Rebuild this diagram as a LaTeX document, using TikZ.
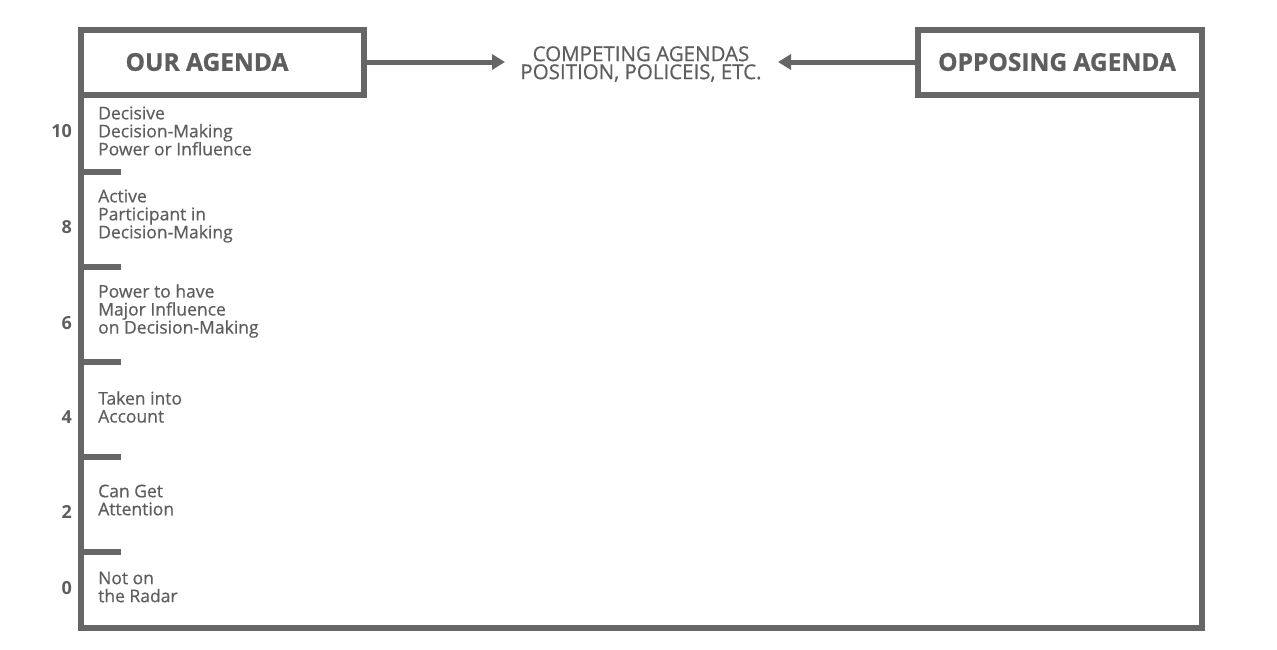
\documentclass[tikz,border=0pt]{standalone}
\usepackage{fontspec}
\setmainfont{Open Sans}
\newfontfamily\lblfont[FakeBold=0.6]{Open Sans}
\newfontfamily\ttlfont[BoldFeatures={FakeBold=1}]{Open Sans}
\usetikzlibrary{arrows.meta}
\definecolor{fr}{HTML}{666666}
\definecolor{tx}{HTML}{5E5E5E}
\tikzset{
  agbox/.style={draw=fr, line width=6pt, minimum height=64.5pt, inner sep=0pt},
  title/.style={text=tx, font=\ttlfont\fontsize{24.5}{26}\selectfont\bfseries, inner sep=0pt},
  lvl/.style={text=tx, font=\lblfont\fontsize{17.5}{18}\selectfont, align=left, anchor=west, inner sep=0pt},
  num/.style={text=tx, font=\fontsize{18}{18}\selectfont\bfseries, anchor=east, inner sep=0pt},
  tick/.style={draw=fr, line width=6pt},
  arr/.style={draw=fr, line width=5pt, -{Triangle[length=13pt,width=15pt]}}
}
\begin{document}
\begin{tikzpicture}[x=1pt,y=-1pt]
\useasboundingbox (0,0) rectangle (1277,649);
% boxes
\node[agbox, minimum width=282.5pt] (our) at (222.25,62.25) {};
\node[agbox, minimum width=284pt] (opp) at (1060,62.25) {};
\node[title] (ourt) at (207,62) {OUR AGENDA};
\node[title] (oppt) at (1057,62) {OPPOSING AGENDA};
% middle text
\node[text=tx, font=\lblfont\fontsize{20.5}{18}\selectfont, align=center, inner sep=0pt] (mid) at (641,64) {COMPETING AGENDAS\\POSITION, POLICEIS, ETC.};
\coordinate (ltip) at (505,62);
\coordinate (rtip) at (778,62);
\draw[arr] (our.east |- ltip) -- (ltip);
\draw[arr] (opp.west |- rtip) -- (rtip);
% frame
\coordinate (bl) at (81,628);
\coordinate (br) at (1202,628);
\draw[draw=fr, line width=6pt, line join=miter] (81,94.5) -- (bl) -- (br) -- (1202,94.5);
% ticks
\foreach \y/\n in {171.5/t1, 267/t2, 362/t3, 457/t4, 552/t5}{
  \coordinate (\n a) at (81,\y);
  \coordinate (\n b) at (121,\y);
  \draw[tick] (\n a) -- (\n b);
}
% level labels
\node[lvl] (l10) at (98,131) {Decisive\\Decision-Making\\Power or Influence};
\node[lvl] (l8) at (98,216) {Active\\Participant in\\Decision-Making};
\node[lvl] (l6) at (98,311) {Power to have\\Major Influence\\on Decision-Making};
\node[lvl] (l4) at (98,407) {Taken into\\Account};
\node[lvl] (l2) at (98,500) {Can Get\\Attention};
\node[lvl] (l0) at (98,587) {Not on\\the Radar};
% numbers
\node[num] (n10) at (72,131) {10};
\node[num] (n8) at (72,227) {8};
\node[num] (n6) at (72,323) {6};
\node[num] (n4) at (72,417) {4};
\node[num] (n2) at (72,512) {2};
\node[num] (n0) at (72,588) {0};
\end{tikzpicture}
\end{document}
